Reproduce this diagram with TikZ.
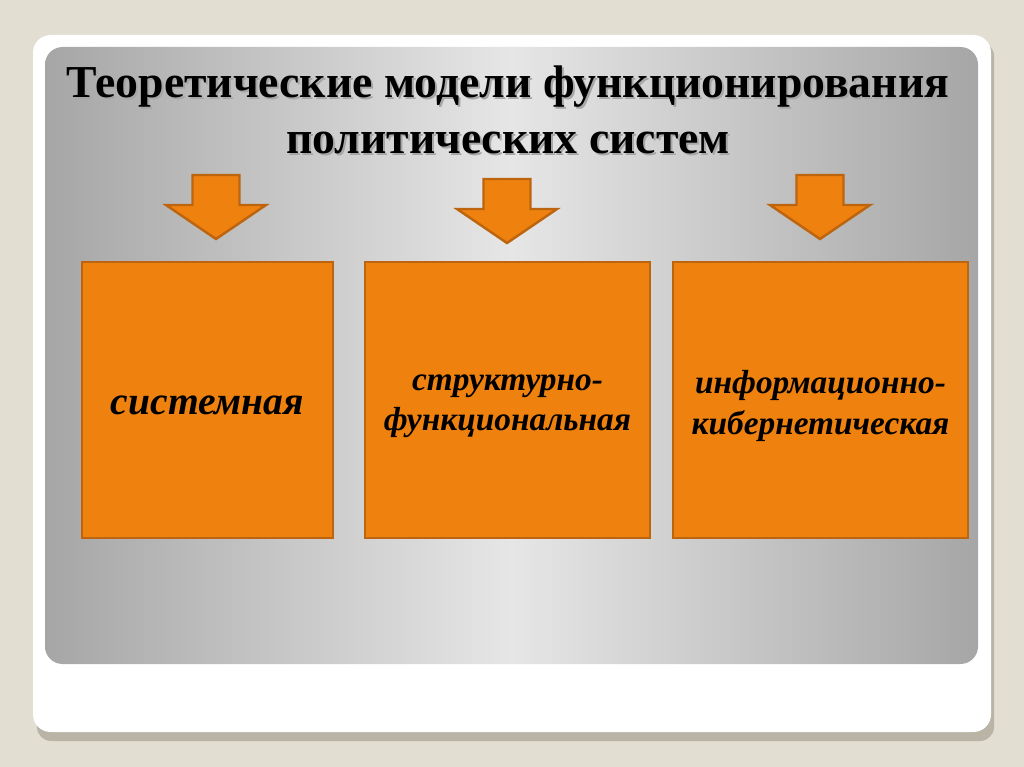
\documentclass[tikz,border=0pt]{standalone}
\usepackage{fontspec}
\setmainfont{Liberation Serif}
\usetikzlibrary{positioning,calc}

\definecolor{pagebg}{HTML}{E2DED2}
\definecolor{shadowc}{HTML}{B9B4A6}
\definecolor{panelside}{HTML}{A6A6A6}
\definecolor{panelmid}{HTML}{E6E6E6}
\definecolor{orfill}{HTML}{EF810F}
\definecolor{ordraw}{HTML}{BD640F}

\tikzset{
	modelbox/.style={draw=ordraw, line width=1.6pt, fill=orfill, minimum width=#1, minimum height=276*0.02cm, inner sep=0pt},
	modeltext/.style={font=\fontsize{19}{23}\selectfont\bfseries\itshape, align=center},
	downarrow/.style={draw=ordraw, line width=1.4pt, fill=orfill, line join=miter},
	titletext/.style={font=\fontsize{26}{31.5}\selectfont\bfseries, align=center}
}

\newcommand\blockarrow[1]{%
	\draw[downarrow] ($(#1)+(-23.5,0)$) -- ($(#1)+(23.5,0)$) -- ($(#1)+(23.5,30)$) -- ($(#1)+(50,30)$)
		-- ($(#1)+(0,64)$) -- ($(#1)+(-50,30)$) -- ($(#1)+(-23.5,30)$) -- cycle;}

\begin{document}
\begin{tikzpicture}[x=0.02cm, y=-0.02cm]
			\useasboundingbox (0,0) rectangle (1024,767);
			\fill[pagebg] (0,0) rectangle (1024,767);
			
			% card and panel
			\fill[shadowc, rounded corners=8] (37,42) rectangle (994,741);
			\fill[white, rounded corners=10] (33,35) rectangle (991,732);
			\shade[rounded corners=10, left color=panelside, right color=panelside, middle color=panelmid] (45,47) rectangle (978,664);
			
			% title
			\node[titletext, text=black!35] at (510,112) {Теоретические модели функционирования\\ политических систем};
			\node (title) [titletext] at (508,110) {Теоретические модели функционирования\\ политических систем};
			
			% boxes
			\node (1) [modelbox=251*0.02cm] at (207.5,400) {};
			\node (2) [modelbox=285*0.02cm] at (507.5,400) {};
			\node (3) [modelbox=295*0.02cm] at (820.5,400) {};
			\node (t1) [modeltext, font=\fontsize{22.5}{27}\selectfont\bfseries\itshape] at (207.5,405) {системная};
			\node (t2) [modeltext] at (507.5,406) {структурно-\\функциональная};
			\node (t3) [modeltext] at (820.5,406) {информационно-\\кибернетическая};
			
			% arrows
			\coordinate (a1) at (216,175);
			\coordinate (a2) at (507,179);
			\coordinate (a3) at (820,175);
			\blockarrow{a1}
			\blockarrow{a2}
			\blockarrow{a3}
\end{tikzpicture}
\end{document}
